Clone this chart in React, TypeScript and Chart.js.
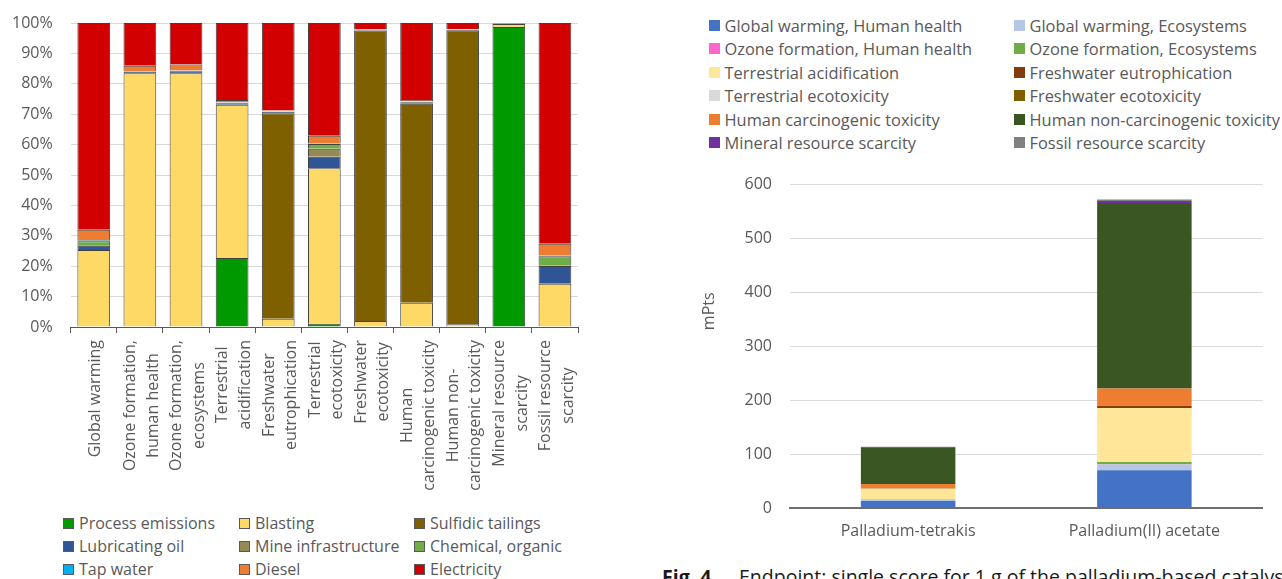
import React, { useEffect, useRef } from 'react';
import { Chart, registerables } from 'chart.js';

Chart.register(...registerables);

const FONT = '"Open Sans", "Noto Sans", sans-serif';
const TEXT = '#595959';
Chart.defaults.font.family = FONT;
Chart.defaults.color = TEXT;

// ---------- Left chart: contribution analysis (100% stacked) ----------
const LC_CATEGORIES = [
  'Global warming',
  'Ozone formation, human health',
  'Ozone formation, ecosystems',
  'Terrestrial acidification',
  'Freshwater eutrophication',
  'Terrestrial ecotoxicity',
  'Freshwater ecotoxicity',
  'Human carcinogenic toxicity',
  'Human non-carcinogenic toxicity',
  'Mineral resource scarcity',
  'Fossil resource scarcity',
];
const LC_LABEL_LINES = [
  ['Global warming'],
  ['Ozone formation,', 'human health'],
  ['Ozone formation,', 'ecosystems'],
  ['Terrestrial', 'acidification'],
  ['Freshwater', 'eutrophication'],
  ['Terrestrial', 'ecotoxicity'],
  ['Freshwater', 'ecotoxicity'],
  ['Human', 'carcinogenic toxicity'],
  ['Human non-', 'carcinogenic toxicity'],
  ['Mineral resource', 'scarcity'],
  ['Fossil resource', 'scarcity'],
];
const LC_Y_TICKS = [0, 10, 20, 30, 40, 50, 60, 70, 80, 90, 100];

const PROCESS_EMISSIONS = [0, 0, 0, 22.7, 0, 1.1, 0, 0, 0, 98.7, 0];
const BLASTING = [25.3, 83.5, 83.5, 50.4, 2.7, 51.1, 2.0, 8.0, 0.9, 1.0, 14.2];
const SULFIDIC_TAILINGS = [0, 0, 0, 0, 67.6, 0, 95.5, 65.4, 96.7, 0, 0];
const LUBRICATING_OIL = [1.4, 0.5, 0.6, 0.5, 0.5, 3.8, 0.2, 0.5, 0.2, 0.1, 5.9];
const MINE_INFRASTRUCTURE = [0.3, 0.1, 0.1, 0.1, 0.1, 2.6, 0.05, 0.2, 0.05, 0.05, 0.2];
const CHEMICAL_ORGANIC = [1.2, 0.1, 0.1, 0.1, 0.05, 1.6, 0.05, 0.1, 0.05, 0.05, 3.0];
const TAP_WATER = [0.3, 0.05, 0.05, 0.05, 0.05, 0.2, 0.02, 0.05, 0.02, 0.02, 0.2];
const DIESEL = [3.5, 1.7, 2.0, 0.8, 0.2, 2.5, 0.1, 0.4, 0.1, 0.05, 3.9];
const ELECTRICITY = [68.0, 14.05, 13.65, 25.35, 28.8, 37.1, 2.08, 25.35, 1.98, 0.03, 72.6];

const LC_SERIES_NAMES = [
  'Process emissions', 'Blasting', 'Sulfidic tailings',
  'Lubricating oil', 'Mine infrastructure', 'Chemical, organic',
  'Tap water', 'Diesel', 'Electricity',
];
const LC_SERIES_VALUES = [
  PROCESS_EMISSIONS, BLASTING, SULFIDIC_TAILINGS,
  LUBRICATING_OIL, MINE_INFRASTRUCTURE, CHEMICAL_ORGANIC,
  TAP_WATER, DIESEL, ELECTRICITY,
];
const LC_COLORS = [
  '#009A00', '#FFD966', '#7F6000',
  '#2F5597', '#948A54', '#70AD47',
  '#00B0F0', '#ED7D31', '#D20000',
];

// ---------- Right chart: endpoint single score ----------
const RC_CATEGORIES = ['Palladium-tetrakis', 'Palladium(II) acetate'];
const RC_Y_TITLE = 'mPts';
const RC_Y_TICKS = [0, 100, 200, 300, 400, 500, 600];

const GW_HUMAN_HEALTH = [13, 70];
const GW_ECOSYSTEMS = [3, 10.5];
const OZONE_HUMAN_HEALTH = [0.05, 0.8];
const OZONE_ECOSYSTEMS = [0.5, 4];
const TERRESTRIAL_ACIDIFICATION = [19, 100];
const FRESHWATER_EUTROPHICATION = [0.3, 3.7];
const TERRESTRIAL_ECOTOXICITY = [0.02, 0.1];
const FRESHWATER_ECOTOXICITY = [0.1, 0.4];
const HUMAN_CARCINOGENIC = [8.5, 32];
const HUMAN_NON_CARCINOGENIC = [68, 344];
const MINERAL_RESOURCE = [0.3, 4];
const FOSSIL_RESOURCE = [0.6, 2.5];

const RC_SERIES_NAMES = [
  'Global warming, Human health', 'Global warming, Ecosystems',
  'Ozone formation, Human health', 'Ozone formation, Ecosystems',
  'Terrestrial acidification', 'Freshwater eutrophication',
  'Terrestrial ecotoxicity', 'Freshwater ecotoxicity',
  'Human carcinogenic toxicity', 'Human non-carcinogenic toxicity',
  'Mineral resource scarcity', 'Fossil resource scarcity',
];
const RC_SERIES_VALUES = [
  GW_HUMAN_HEALTH, GW_ECOSYSTEMS,
  OZONE_HUMAN_HEALTH, OZONE_ECOSYSTEMS,
  TERRESTRIAL_ACIDIFICATION, FRESHWATER_EUTROPHICATION,
  TERRESTRIAL_ECOTOXICITY, FRESHWATER_ECOTOXICITY,
  HUMAN_CARCINOGENIC, HUMAN_NON_CARCINOGENIC,
  MINERAL_RESOURCE, FOSSIL_RESOURCE,
];
const RC_COLORS = [
  '#4472C4', '#B4C7E7',
  '#FF66CC', '#70AD47',
  '#FFE699', '#843C0C',
  '#D9D9D9', '#7F6000',
  '#ED7D31', '#3A5623',
  '#7030A0', '#808080',
];

const CAPTION_BOLD = 'Fig. 4.';
const CAPTION_TEXT = 'Endpoint: single score for 1 g of the palladium-based catalysts.';

// ---------- Plugins ----------
const rotatedLabelsPlugin = {
  id: 'rotatedLabels',
  afterDraw(chart: any) {
    const scale = chart.scales.x;
    const ctx = chart.ctx;
    const lh = 22.4;
    ctx.save();
    ctx.font = `16px ${FONT}`;
    ctx.fillStyle = TEXT;
    ctx.textAlign = 'center';
    ctx.textBaseline = 'middle';
    LC_LABEL_LINES.forEach((lines, i) => {
      const x = scale.getPixelForTick(i) + 2;
      const maxW = Math.max(...lines.map((l) => ctx.measureText(l).width));
      const yc = scale.top + 13 + maxW / 2;
      lines.forEach((line, j) => {
        ctx.save();
        ctx.translate(x + (j - (lines.length - 1) / 2) * lh, yc);
        ctx.rotate(-Math.PI / 2);
        ctx.fillText(line, 0, 0);
        ctx.restore();
      });
    });
    ctx.restore();
  },
};

const yTitlePlugin = {
  id: 'yTitleCustom',
  afterDraw(chart: any) {
    const { ctx, chartArea } = chart;
    ctx.save();
    ctx.font = `16px ${FONT}`;
    ctx.fillStyle = TEXT;
    ctx.textAlign = 'center';
    ctx.textBaseline = 'middle';
    ctx.translate(chartArea.left - 81, (chartArea.top + chartArea.bottom) / 2 - 35);
    ctx.rotate(-Math.PI / 2);
    ctx.fillText(RC_Y_TITLE, 0, 0);
    ctx.restore();
  },
};

// ---------- Components ----------
function ContributionChart() {
  const ref = useRef<HTMLCanvasElement>(null);
  useEffect(() => {
    const chart = new Chart(ref.current as HTMLCanvasElement, {
      type: 'bar',
      data: {
        labels: LC_CATEGORIES,
        datasets: LC_SERIES_NAMES.map((name, i) => ({
          label: name,
          data: LC_SERIES_VALUES[i].map((v) => (v === 0 ? null : v)),
          backgroundColor: LC_COLORS[i],
          borderColor: '#404040',
          borderWidth: 1,
          barPercentage: 0.71,
          categoryPercentage: 1,
        })),
      },
      options: {
        responsive: false,
        animation: false,
        layout: { padding: { left: 0, right: 22, top: 23, bottom: 0 } },
        plugins: { legend: { display: false }, tooltip: { enabled: false } },
        scales: {
          x: {
            stacked: true,
            grid: { display: true, drawOnChartArea: false, drawTicks: true, tickLength: 6, offset: true, color: '#595959' },
            border: { display: true, color: '#595959', width: 1 },
            ticks: { display: false },
            afterFit: (s: any) => { s.height = 173; s.paddingLeft = 0; s.paddingRight = 0; },
          },
          y: {
            stacked: true,
            min: 0,
            max: 100,
            afterBuildTicks: (s: any) => { s.ticks = LC_Y_TICKS.map((v) => ({ value: v })); },
            ticks: { callback: (v: any) => `${v}%`, padding: 18, color: TEXT, font: { family: FONT, size: 16 } },
            grid: { color: '#D9D9D9', drawTicks: false },
            border: { display: false },
            afterFit: (s: any) => { s.width = 70.7; s.paddingTop = 0; s.paddingBottom = 0; },
          },
        },
      } as any,
      plugins: [rotatedLabelsPlugin],
    });
    return () => chart.destroy();
  }, []);
  return (
    <canvas ref={ref} width={600} height={500}
      style={{ position: 'absolute', left: 0, top: 0, width: 600, height: 500 }} />
  );
}

function EndpointChart() {
  const ref = useRef<HTMLCanvasElement>(null);
  useEffect(() => {
    const chart = new Chart(ref.current as HTMLCanvasElement, {
      type: 'bar',
      data: {
        labels: RC_CATEGORIES,
        datasets: RC_SERIES_NAMES.map((name, i) => ({
          label: name,
          data: RC_SERIES_VALUES[i],
          backgroundColor: RC_COLORS[i],
          borderWidth: 0,
          barPercentage: 0.4,
          categoryPercentage: 1,
        })),
      },
      options: {
        responsive: false,
        animation: false,
        layout: { padding: { left: 0, right: 19.5, top: 24.5, bottom: 0 } },
        plugins: { legend: { display: false }, tooltip: { enabled: false } },
        scales: {
          x: {
            stacked: true,
            grid: { display: false, drawTicks: false },
            border: { display: true, color: '#6E6E6E', width: 2 },
            ticks: { padding: 14, color: TEXT, font: { family: FONT, size: 16 } },
            afterFit: (s: any) => { s.height = 45; s.paddingLeft = 0; s.paddingRight = 0; },
          },
          y: {
            stacked: true,
            min: 0,
            max: 600,
            afterBuildTicks: (s: any) => { s.ticks = RC_Y_TICKS.map((v) => ({ value: v })); },
            ticks: { padding: 18, color: TEXT, font: { family: FONT, size: 16 } },
            grid: { color: '#D9D9D9', drawTicks: false },
            border: { display: false },
            afterFit: (s: any) => { s.width = 100; s.paddingTop = 0; s.paddingBottom = 0; },
          },
        },
      } as any,
      plugins: [yTitlePlugin],
    });
    return () => chart.destroy();
  }, []);
  return (
    <canvas ref={ref} width={592} height={393}
      style={{ position: 'absolute', left: 690, top: 160, width: 592, height: 393 }} />
  );
}

function Legend(props: {
  names: string[]; colors: string[]; left: number; top: number;
  cols: number[]; rowH: number; gap: number; bordered: boolean; size: number;
}) {
  const { names, colors, left, top, cols, rowH, gap, bordered, size } = props;
  return (
    <div style={{
      position: 'absolute', left, top, display: 'grid',
      gridTemplateColumns: cols.map((c) => `${c}px`).join(' '),
      gridAutoRows: `${rowH}px`, fontFamily: FONT, fontSize: size, color: TEXT,
    }}>
      {names.map((n, i) => (
        <div key={n} style={{ display: 'flex', alignItems: 'center', whiteSpace: 'nowrap' }}>
          <span style={{
            display: 'inline-block', width: 11, height: 11, marginRight: gap, flex: 'none',
            background: colors[i], boxSizing: 'border-box',
            border: bordered ? '1px solid #595959' : 'none',
          }} />
          <span>{n}</span>
        </div>
      ))}
    </div>
  );
}

export default function App() {
  return (
    <div style={{
      position: 'fixed', left: 0, top: 0, width: 1282, height: 579,
      overflow: 'hidden', background: '#fff', fontFamily: FONT,
    }}>
      <ContributionChart />
      <Legend names={LC_SERIES_NAMES} colors={LC_COLORS} left={63} top={511.5}
        cols={[176, 175, 200]} rowH={23} gap={5} bordered size={16} />
      <Legend names={RC_SERIES_NAMES} colors={RC_COLORS} left={709} top={13.25}
        cols={[305, 280]} rowH={23.5} gap={4.5} bordered={false} size={16.4} />
      <EndpointChart />
      <div style={{
        position: 'absolute', left: 662, top: 565, fontSize: 19.5, lineHeight: '24px',
        whiteSpace: 'nowrap', color: '#1a1a1a', fontFamily: FONT,
      }}>
        <b>{CAPTION_BOLD}</b>
        <span style={{ marginLeft: 22 }}>{CAPTION_TEXT}</span>
      </div>
    </div>
  );
}
